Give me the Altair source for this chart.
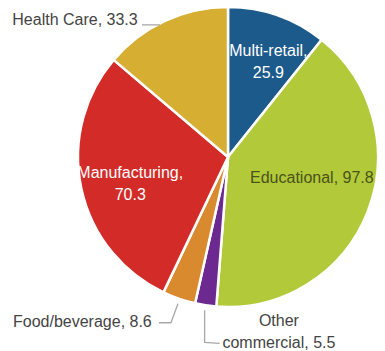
import math
import altair as alt
import pandas as pd

categories = ["Multi-retail", "Educational", "Other commercial", "Food/beverage", "Manufacturing", "Health Care"]
values = [25.9, 97.8, 5.5, 8.6, 70.3, 33.3]
label_texts = ["Multi-retail,\n25.9", "Educational, 97.8", "Other\ncommercial, 5.5",
               "Food/beverage, 8.6", "Manufacturing,\n70.3", "Health Care, 33.3"]
colors = ["#1d5a8c", "#b2c93a", "#6c2a90", "#d98a2e", "#d32b28", "#d6ae32"]

df = pd.DataFrame({"category": categories, "value": values, "label": label_texts,
                   "idx": list(range(len(categories)))})

CX, CY, R = 228, 157, 150
FONT = "Liberation Sans"

# leader lines from slice mid-angles
total = sum(values)
cum = 0
mids = {}
for c, v in zip(categories, values):
    mids[c] = (cum + v / 2) / total * 2 * math.pi
    cum += v

def edge(c):
    a = mids[c]
    return CX + R * math.sin(a), CY - R * math.cos(a)

leader_offsets = {
    "Health Care": [(-5, 4), (-23, 4)],
    "Food/beverage": [(-1, 5), (-8, 24), (-20, 24)],
    "Other commercial": [(-1, 5), (-1, 37), (14, 38)],
}
rows = []
for c, offs in leader_offsets.items():
    px, py = edge(c)
    for i, (ox, oy) in enumerate(offs):
        rows.append({"grp": c, "seq": i, "px": px + ox, "py": py + oy})
leaders = pd.DataFrame(rows)

base = alt.Chart(df).encode(
    theta=alt.Theta("value:Q", stack=True),
    order=alt.Order("idx:Q", sort="ascending"),
    x=alt.value(CX), y=alt.value(CY),
)

pie = base.mark_arc(outerRadius=R, stroke="white", strokeWidth=2.5).encode(
    color=alt.Color("category:N", scale=alt.Scale(domain=categories, range=colors), legend=None)
)

def lab(cat, radius, dx=0, dy=0, align="center", color="#444444"):
    return base.mark_text(radius=radius, dx=dx, dy=dy, align=align, baseline="middle",
                          font=FONT, fontSize=16, lineBreak="\n", lineHeight=21.5,
                          color=color).encode(
        text=alt.condition(alt.datum.category == cat, "label:N", alt.value(""))
    )

layers = [
    pie,
    lab("Multi-retail", 128, dx=-2, dy=15, color="white"),
    lab("Educational", 88, dx=2, dy=-11, color="#4a5219"),
    lab("Manufacturing", 101, dx=1, dy=-5, color="white"),
    lab("Health Care", 165, dx=-21, dy=13, align="right"),
    lab("Food/beverage", 175, dx=-19, dy=0, align="right"),
    lab("Other commercial", 175, dx=77, dy=-9),
]

lines = alt.Chart(leaders).mark_line(color="#a8a8a8", strokeWidth=1.3).encode(
    x=alt.X("px:Q", scale=None), y=alt.Y("py:Q", scale=None),
    detail="grp:N", order="seq:Q"
)

chart = alt.layer(*layers, lines).properties(
    width=385, height=351, padding=0, autosize="none", background="white"
).configure_view(stroke=None)

chart.save("out.html", embed_options={"renderer": "svg", "actions": False})
